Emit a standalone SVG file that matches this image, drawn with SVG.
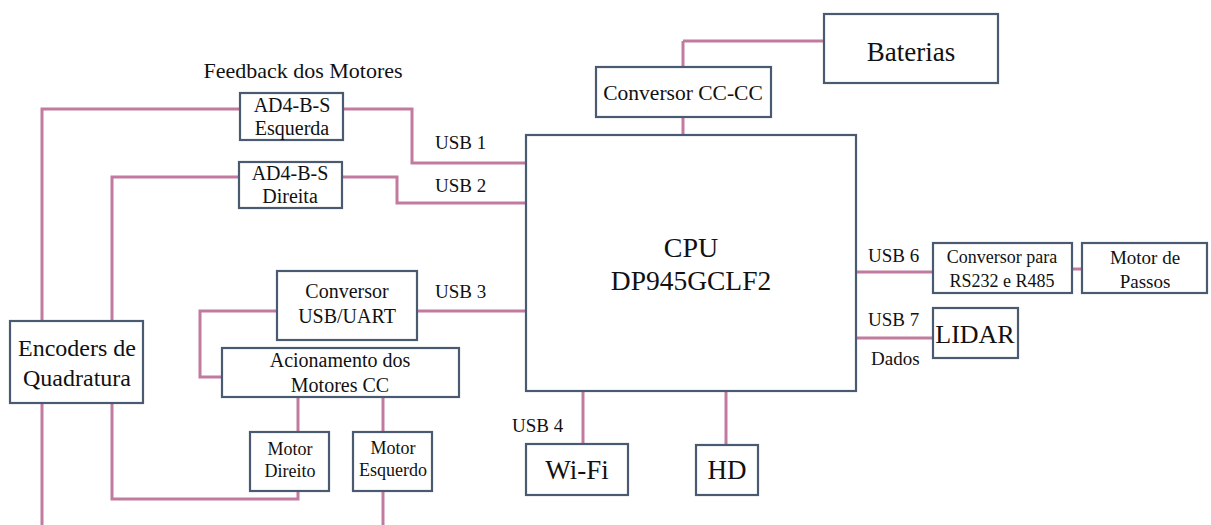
<svg xmlns="http://www.w3.org/2000/svg" width="1211" height="525" viewBox="0 0 1211 525">
<style>
.box{fill:#fff;stroke:#4a5a70;stroke-width:2.2}
.ln{fill:none;stroke:#c27aa0;stroke-width:3}
text{font-family:"Liberation Serif","Times New Roman",serif;fill:#111}
.c{text-anchor:middle}
</style>
<rect width="1211" height="525" fill="#fff"/>
<g id="connectors">
<polyline class="ln" points="683,41 824,41"/>
<polyline class="ln" points="683,41 683,67"/>
<polyline class="ln" points="683,117 683,135"/>
<polyline class="ln" points="343,109 412,109 412,163 526,163"/>
<polyline class="ln" points="342,177 397,177 397,203 526,203"/>
<polyline class="ln" points="240,109 42,109 42,525"/>
<polyline class="ln" points="239,177 112,177 112,499 298,499 298,491"/>
<polyline class="ln" points="417,311 526,311"/>
<polyline class="ln" points="277,311 200,311 200,377 222,377"/>
<polyline class="ln" points="298,397 298,432"/>
<polyline class="ln" points="383,397 383,432"/>
<polyline class="ln" points="383,491 383,525"/>
<polyline class="ln" points="583,391 583,444"/>
<polyline class="ln" points="726,391 726,445"/>
<polyline class="ln" points="856,272 933,272"/>
<polyline class="ln" points="1072,269 1082,269"/>
<polyline class="ln" points="856,338 933,338"/>
</g>
<g id="labels" font-family="Liberation Serif">
<text class="c" x="303" y="78" font-size="22">Feedback dos Motores</text>
<text x="435" y="149" font-size="19">USB 1</text>
<text x="435" y="192" font-size="19">USB 2</text>
<text x="435" y="298" font-size="19">USB 3</text>
<text x="512" y="432" font-size="19">USB 4</text>
<text x="868" y="262" font-size="19">USB 6</text>
<text x="868" y="326" font-size="19">USB 7</text>
<text x="871" y="365" font-size="19">Dados</text>
</g>
<g id="baterias"><rect class="box" x="824" y="14" width="174" height="69"/><text class="c" x="911" y="61" font-size="27">Baterias</text></g>
<g id="conversor-cc"><rect class="box" x="596" y="67" width="175" height="50"/><text class="c" x="683" y="100" font-size="21.5">Conversor CC-CC</text></g>
<g id="cpu"><rect class="box" x="526" y="135" width="330" height="256"/><text class="c" x="691" y="257" font-size="28">CPU</text><text class="c" x="691" y="290" font-size="27.5">DP945GCLF2</text></g>
<g id="ad4-esq"><rect class="box" x="240" y="93" width="103" height="47"/><text class="c" x="292" y="112" font-size="20">AD4-B-S</text><text class="c" x="292" y="135" font-size="20">Esquerda</text></g>
<g id="ad4-dir"><rect class="box" x="239" y="162" width="103" height="46"/><text class="c" x="290" y="180" font-size="20">AD4-B-S</text><text class="c" x="290" y="203" font-size="20">Direita</text></g>
<g id="encoders"><rect class="box" x="10" y="321" width="133" height="82"/><text class="c" x="77" y="356" font-size="24">Encoders de</text><text class="c" x="77" y="386" font-size="24">Quadratura</text></g>
<g id="conv-usb"><rect class="box" x="277" y="271" width="140" height="69"/><text class="c" x="347" y="298" font-size="20">Conversor</text><text class="c" x="347" y="323" font-size="20">USB/UART</text></g>
<g id="acionamento"><rect class="box" x="222" y="348" width="237" height="49"/><text class="c" x="340" y="367" font-size="20">Acionamento dos</text><text class="c" x="340" y="392" font-size="20">Motores CC</text></g>
<g id="motor-dir"><rect class="box" x="250" y="432" width="79" height="59"/><text class="c" x="290" y="455" font-size="18">Motor</text><text class="c" x="290" y="477" font-size="18">Direito</text></g>
<g id="motor-esq"><rect class="box" x="353" y="432" width="79" height="59"/><text class="c" x="393" y="454" font-size="18">Motor</text><text class="c" x="393" y="476" font-size="18">Esquerdo</text></g>
<g id="wifi"><rect class="box" x="526" y="444" width="102" height="51"/><text class="c" x="577" y="479" font-size="27">Wi-Fi</text></g>
<g id="hd"><rect class="box" x="696" y="445" width="62" height="50"/><text class="c" x="727" y="479" font-size="27">HD</text></g>
<g id="conv-rs"><rect class="box" x="933" y="243" width="139" height="50"/><text class="c" x="1002" y="263" font-size="18">Conversor para</text><text class="c" x="1002" y="287" font-size="18">RS232 e R485</text></g>
<g id="motor-passos"><rect class="box" x="1082" y="243" width="125" height="50"/><text class="c" x="1145" y="264" font-size="19">Motor de</text><text class="c" x="1145" y="288" font-size="19">Passos</text></g>
<g id="lidar"><rect class="box" x="933" y="308" width="85" height="50"/><text class="c" x="975" y="343" font-size="26">LIDAR</text></g>
</svg>
